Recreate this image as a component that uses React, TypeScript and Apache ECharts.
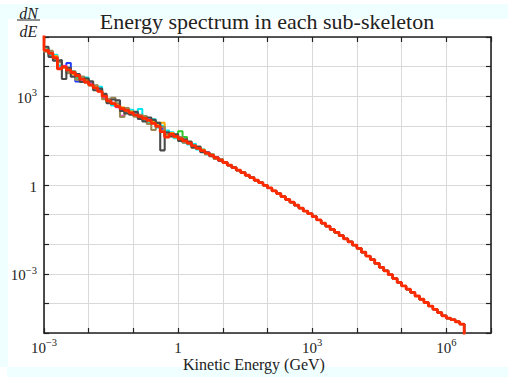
import React, { useEffect, useRef } from "react";
import * as echarts from "echarts";

// Histogram binning (log10 of GeV): 10 bins per decade starting at 1e-3 GeV
const logBinStart = -3;
const logBinWidth = 0.1;

// Axis ranges
const xRange = [1e-3, 1e7];
const yRange = [1e-5, 1e5];

// Red (top-most) sub-skeleton, log10(dN/dE) per bin (low-energy part)
const redLow = [
  4.55, 4.45, 4.3, 3.92, 4.0, 3.88, 3.8, 3.7, 3.58, 3.48,
  3.38, 3.28, 3.16, 3.0, 2.84, 2.75, 2.66, 2.58, 2.52, 2.44,
  2.37, 2.31, 2.25, 2.18, 2.08, 1.98, 1.8, 1.62, 1.72, 1.64,
  1.56, 1.49, 1.41, 1.33, 1.24, 1.16, 1.08, 1.0, 0.92, 0.84,
];
// High-energy part, where all sub-skeletons coincide
const sharedTail = [
  0.76, 0.67, 0.59, 0.5, 0.42, 0.33, 0.25, 0.16, 0.08, -0.01,
  -0.1, -0.2, -0.29, -0.39, -0.49, -0.58, -0.68, -0.78, -0.88, -0.97,
  -1.07, -1.18, -1.29, -1.39, -1.5, -1.6, -1.71, -1.82, -1.92, -2.03,
  -2.14, -2.27, -2.4, -2.52, -2.65, -2.78, -2.9, -3.03, -3.16, -3.29,
  -3.41, -3.52, -3.63, -3.75, -3.86, -3.97, -4.09, -4.2, -4.31, -4.42,
  -4.5, -4.55, -4.62, -4.7,
];

// Other sub-skeletons: low-energy part (where they differ), log10 values
const grayLow = [
  4.67, 4.33, 4.2, 4.22, 3.58, 3.96, 3.66, 3.75, 3.48, 3.6,
  3.5, 3.2, 3.26, 3.08, 2.76, 2.89, 2.86, 2.5, 2.42, 2.38,
  2.47, 2.23, 2.15, 2.28, 2.2, 2.1, 1.17, 1.78, 1.64, 1.71,
  1.49, 1.54, 1.46, 1.28, 1.29, 1.11, 1.1, 0.97, 0.94, 0.82,
];
const oliveLow = [
  4.5, 4.53, 4.24, 4.15, 3.98, 3.78, 3.84, 3.56, 3.66, 3.46,
  3.36, 3.38, 3.18, 2.9, 2.92, 2.95, 2.76, 2.3, 2.6, 2.38,
  2.31, 2.37, 2.33, 2.06, 1.86, 2.1, 1.96, 1.72, 1.66, 1.7,
  1.62, 1.43, 1.47, 1.25, 1.3, 1.12, 1.04, 1.04, 0.88, 0.88,
];
const cyanLow = [
  4.63, 4.39, 4.4, 4.04, 4.0, 3.8, 3.84, 3.58, 3.64, 3.62,
  3.38, 3.22, 3.32, 3.04, 2.78, 2.69, 2.74, 2.54, 2.46, 2.54,
  2.41, 2.57, 2.19, 2.1, 2.22, 1.94, 2.0, 1.84, 1.78, 1.58,
  1.6, 1.43, 1.37, 1.39, 1.2, 1.2, 1.04, 1.04, 0.88, 0.88,
];
const magentaLow = [
  4.55, 4.48, 4.29, 3.95, 4.03, 3.9, 3.74, 3.7, 3.55, 3.49,
  3.43, 3.31, 3.16, 2.96, 2.87, 2.78, 2.63, 2.34, 2.55, 2.42,
  2.35, 2.28, 2.28, 2.21, 2.09, 2.03, 1.96, 1.66, 1.69, 1.67,
  1.54, 1.51, 1.43, 1.31, 1.26, 1.14, 1.1, 0.98, 0.94, 0.82,
];
const blueLow = [
  4.6, 4.43, 4.35, 3.96, 3.98, 4.12, 3.82, 3.5, 3.62, 3.49,
  3.43, 3.25, 3.23, 2.96, 2.87, 2.74, 2.69, 2.56, 2.55, 2.42,
  2.4, 2.29, 2.22, 2.21, 2.11, 1.97, 1.9, 1.65, 1.75, 1.62,
  1.58, 1.47, 1.43, 1.31, 1.26, 1.14, 1.1, 0.98, 0.94, 0.82,
];
const orangeLow = [
  4.58, 4.48, 4.36, 3.92, 3.96, 3.92, 3.75, 3.69, 3.57, 3.56,
  3.37, 3.31, 3.18, 3.03, 2.81, 2.77, 2.7, 2.62, 2.48, 2.48,
  2.34, 2.34, 2.23, 2.15, 2.15, 2.04, 2.1, 1.68, 1.76, 1.61,
  1.59, 1.46, 1.44, 1.3, 1.27, 1.19, 1.05, 1.03, 0.89, 0.87,
];
const greenLow = [
  4.59, 4.43, 4.3, 3.93, 4.01, 3.86, 3.81, 3.64, 3.6, 3.55,
  3.38, 3.31, 3.17, 3.02, 2.82, 2.72, 2.69, 2.61, 2.5, 2.48,
  2.4, 2.28, 2.28, 2.15, 2.14, 2.03, 1.82, 1.67, 1.75, 1.68,
  1.82, 1.62, 1.39, 1.36, 1.22, 1.19, 1.06, 1.03, 0.9, 0.86,
];

const seriesDefs = [
  { name: "blue", low: blueLow, color: "#1f3dff", width: 2 },
  { name: "green", low: greenLow, color: "#2fc82f", width: 2 },
  { name: "cyan", low: cyanLow, color: "#00e6ee", width: 2 },
  { name: "magenta", low: magentaLow, color: "#ff3dff", width: 2 },
  { name: "orange", low: orangeLow, color: "#ffa800", width: 2 },
  { name: "olive", low: oliveLow, color: "#9a8856", width: 2.1 },
  { name: "gray", low: grayLow, color: "#4a4a4a", width: 2.1 },
  { name: "red", low: redLow, color: "#ff2a00", width: 2.8 },
];

const titleText = "Energy spectrum in each sub-skeleton";
const xName = "Kinetic Energy (GeV)";

const SERIF = "'Liberation Serif', 'DejaVu Serif', serif";
const INK = "#222";
const BAND = "#effefe";

function stepData(logVals: number[]): [number, number][] {
  const pts: [number, number][] = [];
  // lead-in from above the plotted range (clipped)
  pts.push([10 ** (logBinStart - logBinWidth), yRange[1] * 10]);
  logVals.forEach((lv, i) => {
    pts.push([10 ** (logBinStart + i * logBinWidth), 10 ** lv]);
  });
  const n = logVals.length;
  const lastEdge = 10 ** (logBinStart + n * logBinWidth);
  pts.push([lastEdge, 10 ** logVals[n - 1]]);
  // closing drop below the plotted range (clipped)
  pts.push([lastEdge, yRange[0] / 100]);
  return pts;
}

function powLabel(v: number): string {
  const e = Math.round(Math.log10(v));
  if (e % 3 !== 0) return "";
  if (e === 0) return "{b|1}";
  const s = e < 0 ? "\u2212" + String(-e) : String(e);
  return "{b|10}{s|" + s + "}";
}

const rich = {
  b: { fontFamily: SERIF, fontSize: 15, color: INK, lineHeight: 18, verticalAlign: "bottom" },
  s: { fontFamily: SERIF, fontSize: 10.5, color: INK, lineHeight: 10, verticalAlign: "top" },
};

export default function App() {
  const ref = useRef<HTMLDivElement>(null);
  useEffect(() => {
    if (!ref.current) return;
    const chart = echarts.init(ref.current, null, { renderer: "svg" });
    const axisLine = { show: true, onZero: false, lineStyle: { color: INK, width: 1.6 } };
    const axisTick = { show: true, inside: true, length: 5, lineStyle: { color: INK, width: 1.2 } };
    const splitLine = { show: true, lineStyle: { color: "#d9d9d9", width: 1 } };
    const option: any = {
      animation: false,
      backgroundColor: "#ffffff",
      grid: { left: 44, right: 17, top: 37, bottom: 44, containLabel: false },
      xAxis: [
        {
          type: "log", logBase: 10, min: xRange[0], max: xRange[1], interval: 1,
          position: "bottom", axisLine, axisTick, splitLine,
          minorTick: { show: false }, minorSplitLine: { show: false },
          axisLabel: { formatter: powLabel, rich, margin: 4, showMinLabel: true, showMaxLabel: true },
        },
        {
          type: "log", logBase: 10, min: xRange[0], max: xRange[1], interval: 1,
          position: "top", axisLine, axisTick, splitLine: { show: false },
          axisLabel: { show: false },
        },
      ],
      yAxis: [
        {
          type: "log", logBase: 10, min: yRange[0], max: yRange[1], interval: 1,
          position: "left", axisLine, axisTick, splitLine,
          minorTick: { show: false }, minorSplitLine: { show: false },
          axisLabel: { formatter: powLabel, rich, margin: 7, showMinLabel: true, showMaxLabel: true },
        },
        {
          type: "log", logBase: 10, min: yRange[0], max: yRange[1], interval: 1,
          position: "right", axisLine, axisTick, splitLine: { show: false },
          axisLabel: { show: false },
        },
      ],
      graphic: [
        { type: "rect", silent: true, z: -10, shape: { x: 0, y: 4, width: 508, height: 15 }, style: { fill: BAND } },
        { type: "rect", silent: true, z: -10, shape: { x: 0, y: 19, width: 8, height: 348 }, style: { fill: BAND } },
        { type: "rect", silent: true, z: -10, shape: { x: 7, y: 367, width: 501, height: 10 }, style: { fill: BAND } },
        {
          type: "text", x: 267, y: 10, silent: true,
          style: { text: titleText, font: "22px " + SERIF, fill: INK, align: "center", verticalAlign: "top" },
        },
        {
          type: "text", x: 254, y: 356, silent: true,
          style: { text: xName, font: "16px " + SERIF, fill: INK, align: "center", verticalAlign: "top" },
        },
        {
          type: "text", x: 28.5, y: 5, silent: true,
          style: { text: "dN", font: "italic 16px " + SERIF, fill: INK, align: "center", verticalAlign: "top" },
        },
        {
          type: "line", silent: true, shape: { x1: 17, y1: 20, x2: 40, y2: 20 }, style: { stroke: INK, lineWidth: 1 },
        },
        {
          type: "text", x: 28.5, y: 23, silent: true,
          style: { text: "dE", font: "italic 16px " + SERIF, fill: INK, align: "center", verticalAlign: "top" },
        },
      ],
      series: seriesDefs.map((d) => ({
        name: d.name,
        type: "line",
        step: "end",
        symbol: "none",
        showSymbol: false,
        clip: true,
        silent: true,
        xAxisIndex: 0,
        yAxisIndex: 0,
        lineStyle: { color: d.color, width: d.width },
        data: stepData([...d.low, ...sharedTail]),
      })),
    };
    chart.setOption(option);
    return () => chart.dispose();
  }, []);
  return (
    <div style={{ position: "absolute", left: 0, top: 0, width: 508, height: 377, background: "#fff" }}>
      <div ref={ref} style={{ width: 508, height: 377 }} />
    </div>
  );
}
